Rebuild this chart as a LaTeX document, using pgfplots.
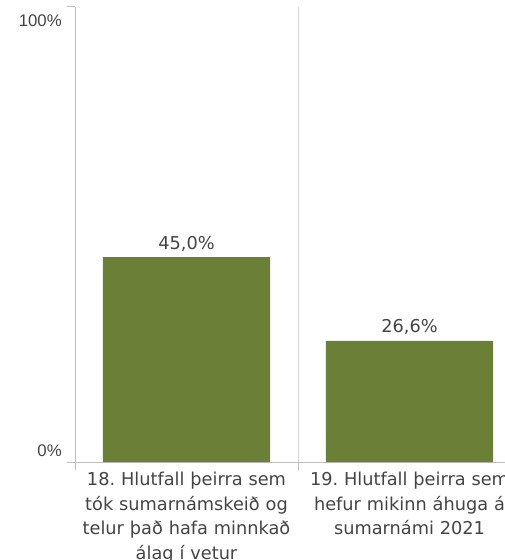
\documentclass[border=0pt]{standalone}
\usepackage{fontspec}
\setmainfont{DejaVu Sans}
\newfontfamily\tickfont{Liberation Sans}
\usepackage{pgfplots}
\pgfplotsset{compat=1.18}
\definecolor{bargreen}{RGB}{107,127,54}
\definecolor{txt}{RGB}{68,68,68}
\definecolor{axgray}{RGB}{191,191,191}
\definecolor{gridgray}{RGB}{214,214,214}
\newcommand{\catfont}{\fontsize{13.3pt}{18.4pt}\selectfont}
\newcommand{\ytfont}{\tickfont\fontsize{12.6pt}{14pt}\selectfont}
\frenchspacing

\begin{document}
\begin{tikzpicture}
% picture is 505x560 px, 1px = 0.75pt; the right end of the axis is cut off
\useasboundingbox (0,0) rectangle (378.75pt,420pt);
\clip (0,0) rectangle (378.75pt,420pt);
\begin{axis}[
    at={(56.25pt,73.5pt)}, anchor=south west,
    scale only axis,
    width=334.5pt, height=341.25pt,
    xmin=0, xmax=2, ymin=0, ymax=100,
    axis lines*=left,
    axis line style={axgray, line width=0.75pt},
    xtick={0,1,2}, xticklabels={},
    ytick={0,100}, yticklabels={},
    tick align=outside,
    major tick length=6pt,
    tick style={axgray, line width=0.75pt},
    xmajorgrids,
    major grid style={gridgray, line width=0.75pt},
    clip=false,
]
    \addplot[ybar, bar width=0.75, fill=bargreen, draw=none,
        point meta=y,
        nodes near coords={\pgfmathprintnumber[fixed,fixed zerofill,precision=1,use comma,assume math mode=true]{\pgfplotspointmeta}\%},
        nodes near coords style={font=\catfont, text=txt, anchor=base, yshift=6pt, inner sep=0pt}]
        coordinates {(0.5,45.0) (1.5,26.6)};

    % category labels
    \node[anchor=north, inner sep=0pt, text width=167pt, align=center, font=\catfont, text=txt]
        at ([yshift=-7.5pt]axis cs:0.5,0)
        {18. Hlutfall þeirra sem\\tók sumarnámskeið og\\telur það hafa minnkað\\álag í vetur};
    \node[anchor=north, inner sep=0pt, text width=167pt, align=center, font=\catfont, text=txt]
        at ([yshift=-7.5pt]axis cs:1.5,0)
        {19. Hlutfall þeirra sem\\hefur mikinn áhuga á\\sumarnámi 2021};

    % y tick labels
    \node[anchor=east, inner sep=0pt, font=\ytfont, text=txt]
        at ([xshift=-9.75pt, yshift=-10.5pt]axis cs:0,100) {100\%};
    \node[anchor=east, inner sep=0pt, font=\ytfont, text=txt]
        at ([xshift=-9.75pt, yshift=8.25pt]axis cs:0,0) {0\%};
\end{axis}
\end{tikzpicture}
\end{document}
